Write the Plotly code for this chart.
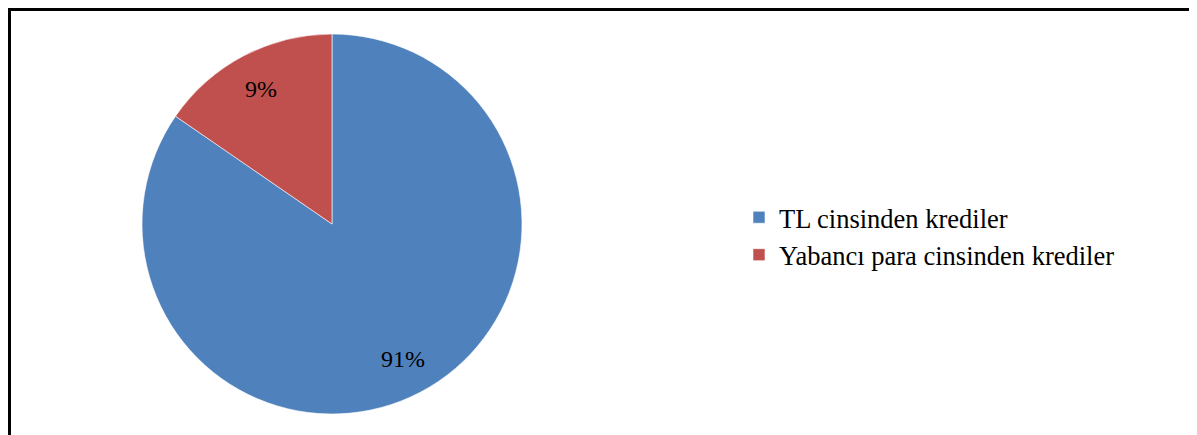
import math
import plotly.graph_objects as go

categories = ["TL cinsinden krediler", "Yabancı para cinsinden krediler"]
values = [84.6, 15.4]
label_texts = ["91%", "9%"]
colors = ["#4F81BD", "#C0504D"]

OFF = 8  # page body margin
W, H = 1197 - OFF, 435 - OFF
cx, cy, r = 332 - OFF, 224 - OFF, 190

# label positions along each slice bisector (clockwise from 12 o'clock)
total = sum(values)
annotations = []
cum = 0.0
for v, t in zip(values, label_texts):
    mid = (cum + v / 2) / total * 2 * math.pi
    cum += v
    px = cx + 0.8 * r * math.sin(mid)
    py = cy - 0.8 * r * math.cos(mid)
    annotations.append(dict(
        x=px / W, y=(H - py) / H, xref="paper", yref="paper",
        text=t, showarrow=False, xanchor="center", yanchor="middle",
        font=dict(family="Liberation Serif", size=24, color="black"),
    ))

fig = go.Figure(go.Pie(
    labels=categories,
    values=values,
    textinfo="none",
    sort=False,
    direction="clockwise",
    rotation=0,
    marker=dict(colors=colors, line=dict(color="white", width=0.6)),
    domain=dict(x=[(cx - r) / W, (cx + r) / W], y=[(H - cy - r) / H, (H - cy + r) / H]),
    hoverinfo="label+percent",
))

fig.update_layout(
    width=W, height=H,
    margin=dict(l=0, r=0, t=0, b=0),
    paper_bgcolor="white",
    plot_bgcolor="white",
    showlegend=True,
    annotations=annotations,
    legend=dict(
        x=(779 - 40 - OFF) / W, y=(H - (236 - OFF)) / H, xanchor="left", yanchor="middle",
        font=dict(family="Liberation Serif", size=26.5, color="black"),
        bgcolor="rgba(0,0,0,0)",
    ),
    shapes=[dict(
        type="rect", xref="paper", yref="paper",
        x0=1.5 / W, x1=(1195 - OFF) / W, y0=-0.2, y1=(H - 1.5) / H,
        line=dict(color="black", width=3), fillcolor="rgba(0,0,0,0)",
    )],
)

fig.write_html("out.html")
